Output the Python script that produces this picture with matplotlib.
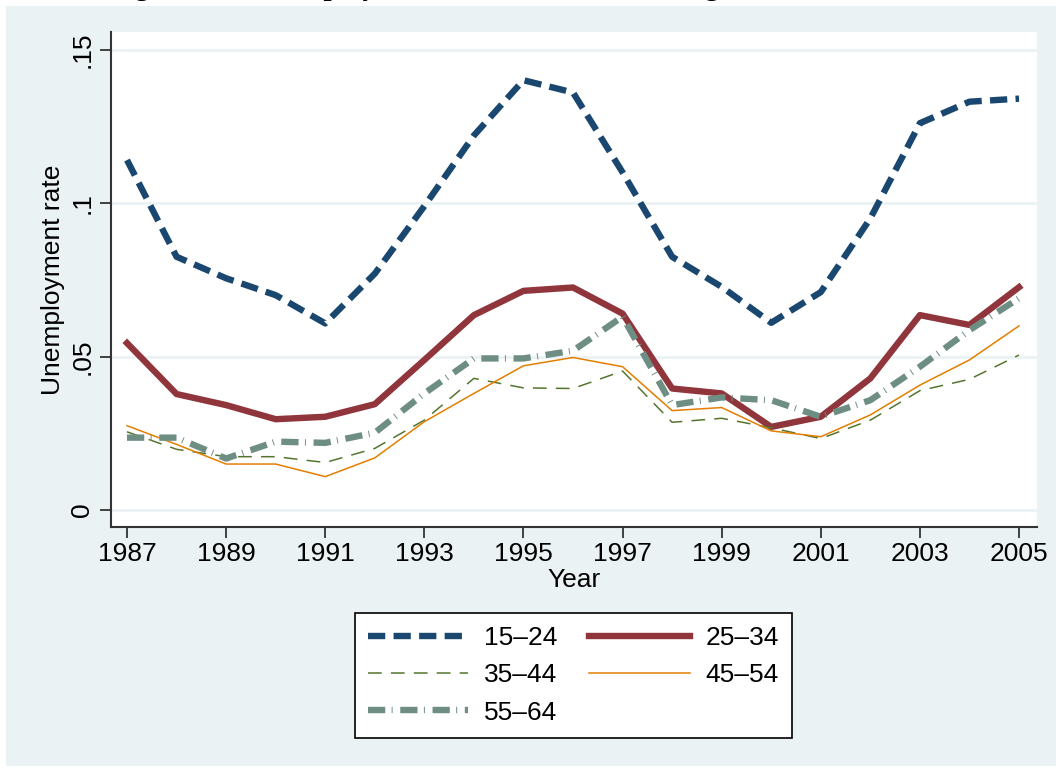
import matplotlib.pyplot as plt
from matplotlib.patches import Rectangle

plt.rcParams['font.family'] = ['Liberation Sans', 'DejaVu Sans']

# --- data ---
years = list(range(1987, 2006))

age_15_24 = [0.114, 0.0825, 0.0755, 0.070, 0.0608, 0.077, 0.099, 0.122, 0.140, 0.136,
             0.110, 0.0825, 0.0727, 0.061, 0.071, 0.095, 0.126, 0.133, 0.134]
age_25_34 = [0.0544, 0.0378, 0.0342, 0.0296, 0.0304, 0.0345, 0.0489, 0.0635, 0.0714, 0.0725,
             0.064, 0.0396, 0.038, 0.0271, 0.0304, 0.0429, 0.0635, 0.0603, 0.0726]
age_35_44 = [0.0255, 0.0198, 0.0174, 0.0174, 0.0155, 0.0201, 0.0293, 0.0429, 0.0398, 0.0396,
             0.0453, 0.0286, 0.0299, 0.0268, 0.0233, 0.0293, 0.0389, 0.0426, 0.0505]
age_45_54 = [0.0275, 0.0214, 0.015, 0.015, 0.0109, 0.017, 0.0288, 0.038, 0.047, 0.0497,
             0.0467, 0.0324, 0.0334, 0.0258, 0.0239, 0.031, 0.0407, 0.0489, 0.060]
age_55_64 = [0.0236, 0.0236, 0.0168, 0.0223, 0.0219, 0.0252, 0.038, 0.0494, 0.0494, 0.0519,
             0.063, 0.0342, 0.0367, 0.0358, 0.0304, 0.0358, 0.0467, 0.0586, 0.069]

x_ticks = [1987, 1989, 1991, 1993, 1995, 1997, 1999, 2001, 2003, 2005]
y_ticks = [0, 0.05, 0.1, 0.15]
y_tick_labels = ["0", ".05", ".1", ".15"]

W, H = 1058, 771
fig = plt.figure(figsize=(W / 100, H / 100), dpi=100, facecolor="white")

# Stata-like light background behind everything
fig.patches.append(Rectangle((6 / W, 1 - 766 / H), (1056 - 6) / W, (766 - 6) / H,
                             transform=fig.transFigure, facecolor="#eaf2f3",
                             edgecolor="none", zorder=-5))

# title, mostly cut off at the top edge (as in the source image)
fig.text(109 / W, 1 + 5 / H, "Figure A1: Unemployment rates, Males, Total, age, 1987\u20132005",
         fontsize=21, fontweight="bold", family="Liberation Serif",
         ha="left", va="baseline")

ax = fig.add_axes([111 / W, 1 - 527 / H, (1037 - 111) / W, (527 - 32) / H])
ax.set_facecolor("white")

l1, = ax.plot(years, age_15_24, color="#1a476f", lw=4.6, dashes=(2.7, 1.3),
              label="15\u201324", dash_capstyle="butt")
l2, = ax.plot(years, age_25_34, color="#90353b", lw=4.6, label="25\u201334")
l3, = ax.plot(years, age_35_44, color="#55752f", lw=1.1, dashes=(9, 6), label="35\u201344")
l4, = ax.plot(years, age_45_54, color="#e37e00", lw=1.1, label="45\u201354")
l5, = ax.plot(years, age_55_64, color="#6e8e84", lw=4.6, dashes=(2.7, 1.0, 0.15, 1.2),
              label="55\u201364", dash_capstyle="butt")

ax.set_xlim(1986.677, 2005.363)
ax.set_ylim(-0.0055, 0.1557)
ax.set_xticks(x_ticks)
ax.set_yticks(y_ticks)
ax.set_yticklabels(y_tick_labels, rotation=90, va="center")
ax.tick_params(axis="both", labelsize=19, length=8, width=1.3, direction="out", color="#333333")
ax.tick_params(axis="x", pad=3)
ax.tick_params(axis="y", pad=4)

ax.grid(axis="y", color="#eaf2f3", lw=2)
ax.set_axisbelow(True)
for s in ["top", "right"]:
    ax.spines[s].set_visible(False)
for s in ["left", "bottom"]:
    ax.spines[s].set_color("#333333")
    ax.spines[s].set_linewidth(1.5)

ax.set_xlabel("Year", fontsize=19, labelpad=1)
ax.set_ylabel("Unemployment rate", fontsize=19, labelpad=4)

# legend (order so rows read 15-24 | 25-34, 35-44 | 45-54, 55-64)
leg = fig.legend([l1, l3, l5, l2, l4], ["15\u201324", "35\u201344", "55\u201364", "25\u201334", "45\u201354"],
                 ncol=2, loc="upper center", bbox_to_anchor=(573.5 / W, 1 - 613 / H),
                 borderaxespad=0, fontsize=19, handlelength=3.8, handletextpad=0.6,
                 columnspacing=1.2, labelspacing=0.5, borderpad=0.5, fancybox=False,
                 frameon=True, edgecolor="black", framealpha=1)
leg.get_frame().set_linewidth(1.2)

fig.savefig("out.png", dpi=100, facecolor="white")
